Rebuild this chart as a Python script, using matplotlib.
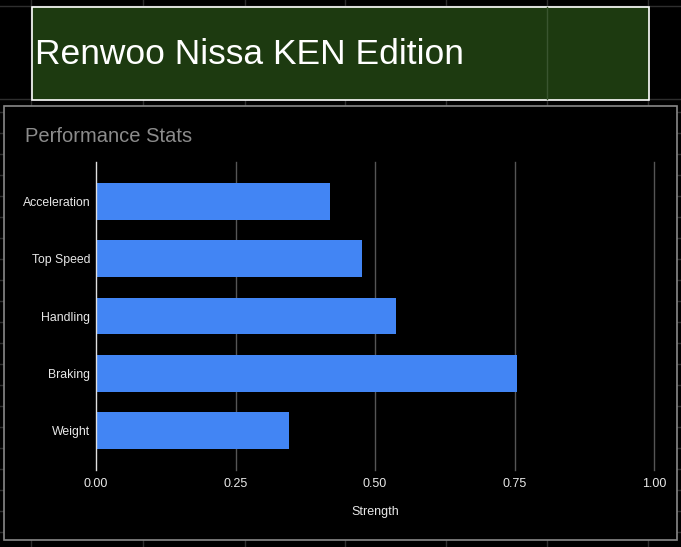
import matplotlib
matplotlib.use("Agg")
import matplotlib.pyplot as plt
from matplotlib.patches import Rectangle
from matplotlib.lines import Line2D

plt.rcParams['font.family'] = ['Liberation Sans', 'DejaVu Sans']

categories = ["Acceleration", "Top Speed", "Handling", "Braking", "Weight"]
strength = [0.42, 0.476, 0.537, 0.755, 0.345]
xticks = [0.0, 0.25, 0.5, 0.75, 1.0]
xtick_labels = ["0.00", "0.25", "0.50", "0.75", "1.00"]
title_text = "Renwoo Nissa KEN Edition"
chart_title = "Performance Stats"
x_label = "Strength"

W, H = 681, 547
fig = plt.figure(figsize=(W / 100, H / 100), dpi=100, facecolor="#000000")

# background "spreadsheet" layer in pixel coordinates
bg = fig.add_axes([0, 0, 1, 1], zorder=0)
bg.set_xlim(0, W)
bg.set_ylim(H, 0)
bg.axis("off")
bg.set_facecolor("#000000")
grid_col = "#2e2e2e"
col_lines = [31, 143, 245, 345, 446, 547, 648]
row_lines = [6, 99] + [112 + 21 * i for i in range(21)]
for x in col_lines:
    bg.add_line(Line2D([x, x], [0, H], color=grid_col, lw=1))
for y in row_lines:
    bg.add_line(Line2D([0, W], [y, y], color=grid_col, lw=1))

# title box
bg.add_patch(Rectangle((32, 6.5), 617, 93, facecolor="#1d3a10", edgecolor="#ffffff", lw=1.2, zorder=3))
bg.add_line(Line2D([547, 547], [7, 99], color="#3a5530", lw=1, zorder=4))
bg.text(35, 54, title_text, color="#ffffff", fontsize=25.5, va="center", ha="left", zorder=5)

# chart box
bg.add_patch(Rectangle((3.5, 105.5), 673, 434, facecolor="#000000", edgecolor="#888888", lw=1.2, zorder=3))
bg.text(25, 137, chart_title, color="#8c8c8c", fontsize=14.5, va="center", ha="left", zorder=5)

# chart
ax = fig.add_axes([96 / W, (H - 470) / H, (654 - 96) / W, (470 - 162) / H], zorder=5)
ax.set_facecolor("none")
ypos = list(range(len(categories)))
ax.barh(ypos, strength, height=0.64, color="#4285f4", zorder=3)
ax.set_xlim(0, 1.0)
ax.set_ylim(4.69, -0.69)
ax.set_yticks(ypos)
ax.set_yticklabels(categories, color="#e8e8e8", fontsize=8.8)
ax.set_xticks(xticks)
ax.set_xticklabels(xtick_labels, color="#e8e8e8", fontsize=9)
ax.tick_params(axis="both", length=0)
ax.tick_params(axis="y", pad=4)
ax.tick_params(axis="x", pad=6)
for s in ax.spines.values():
    s.set_visible(False)
for xv in xticks[1:]:
    ax.axvline(xv, color="#555555", lw=1, zorder=1, clip_on=False)
ax.axvline(0, color="#e0e0e0", lw=1, zorder=4, clip_on=False)
ax.set_xlabel(x_label, color="#e8e8e8", fontsize=9, labelpad=11)

fig.savefig("out.png", dpi=100, facecolor="#000000")
